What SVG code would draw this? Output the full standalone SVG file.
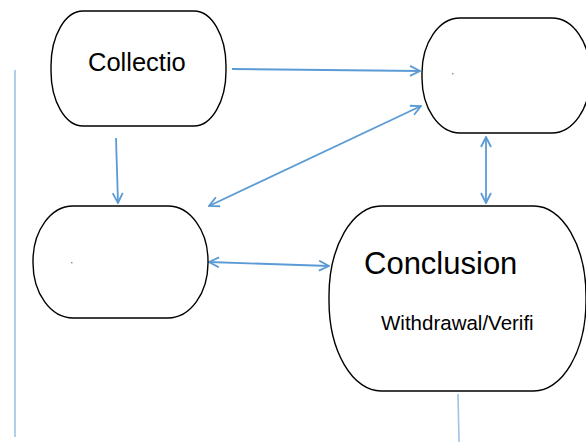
<svg xmlns="http://www.w3.org/2000/svg" width="586" height="442" viewBox="0 0 586 442">
<defs>
<style>
.node{fill:#fff;stroke:#000;stroke-width:1.4}
.conn{stroke:#5B9BD5;stroke-width:1.8;fill:none}
.thin{stroke:#9DC3E6;stroke-width:1.6;fill:none}
text{font-family:"Liberation Sans",Arial,sans-serif;fill:#000}
</style>
<marker id="ah" viewBox="0 0 12 12" refX="11" refY="6" markerWidth="12" markerHeight="12" markerUnits="userSpaceOnUse" orient="auto-start-reverse">
<polyline points="1,1 11,6 1,11" fill="none" stroke="#5B9BD5" stroke-width="1.8"/>
</marker>
</defs>
<rect width="586" height="442" fill="#fff"/>
<g id="connectors">
<line class="thin" x1="15" y1="70" x2="15" y2="437"/>
<line class="thin" x1="458" y1="394" x2="459" y2="442"/>
<line class="conn" x1="232" y1="69" x2="420" y2="71" marker-end="url(#ah)"/>
<line class="conn" x1="116" y1="138" x2="118" y2="203" marker-end="url(#ah)"/>
<line class="conn" x1="209" y1="206" x2="421" y2="106" marker-start="url(#ah)" marker-end="url(#ah)"/>
<line class="conn" x1="486" y1="137" x2="486" y2="203" marker-start="url(#ah)" marker-end="url(#ah)"/>
<line class="conn" x1="209" y1="262" x2="329" y2="266" marker-start="url(#ah)" marker-end="url(#ah)"/>
</g>
<g id="collection">
<rect class="node" x="51" y="11" width="175" height="115" rx="32" ry="55"/>
<text x="88" y="71" font-size="25.5">Collectio</text>
</g>
<g id="topright">
<rect class="node" x="422" y="18" width="168" height="115" rx="38" ry="55"/>
<text x="452" y="78" font-size="8">'</text>
</g>
<g id="leftmid">
<rect class="node" x="33" y="206" width="175" height="112" rx="40" ry="55"/>
<text x="71" y="267" font-size="8">'</text>
</g>
<g id="conclusion">
<rect class="node" x="329" y="206" width="257" height="185" rx="52" ry="90"/>
<text x="364" y="274" font-size="31">Conclusion</text>
<text x="381" y="330" font-size="20.5">Withdrawal/Verifi</text>
</g>
</svg>
